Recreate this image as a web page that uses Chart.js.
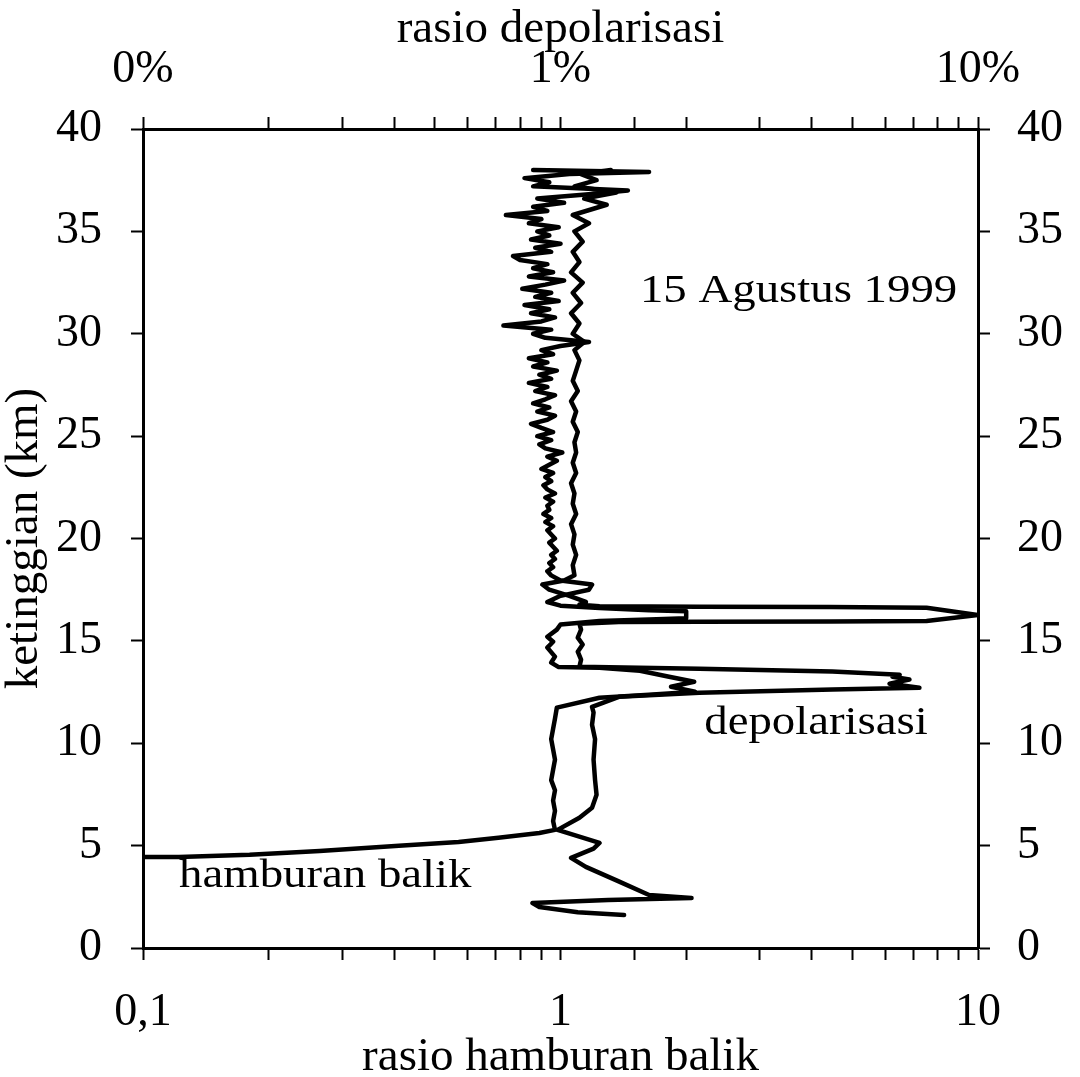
<!DOCTYPE html>
<html>
<head>
<meta charset="utf-8">
<title>Profil lidar 15 Agustus 1999</title>
<script src="https://cdn.jsdelivr.net/npm/chart.js"></script>
<style>
  body { margin: 0; background: #fff; }
  #wrap { width: 1080px; height: 1077px; }
</style>
</head>
<body>
<div id="wrap"><canvas id="chart" width="1080" height="1077"></canvas></div>
<script>
// hamburan balik (backscatter ratio) - ketinggian km / rasio
const hbAlt = [
  4.45, 4.45, 4.55, 4.74, 4.99, 5.18, 5.38, 5.62, 5.77,
  6.2, 6.7, 7.2, 7.7, 8.2, 8.7, 9.2, 9.7, 10.2, 10.7, 11.2, 11.74,
  12.22, 12.37, 12.52, 12.76, 13.0, 13.25, 13.54, 13.69, 13.72,
  13.94, 14.23, 14.67, 14.96, 15.2, 15.55, 15.8,
  15.97, 16.05, 16.1, 16.45, 16.5, 16.6, 16.72,
  16.9, 17.2, 17.5, 17.75, 17.95,
  18.2, 18.4, 18.6, 18.8, 19.0, 19.2, 19.4, 19.6, 19.8, 20.0,
  20.2, 20.4, 20.6, 20.8, 21.0, 21.2, 21.4, 21.6, 21.8, 22.0,
  22.2, 22.4, 22.6, 22.8, 23.0, 23.2, 23.4, 23.6, 23.8, 24.0,
  24.2, 24.4, 24.6, 24.8, 25.0, 25.2, 25.4, 25.6, 25.8, 26.0,
  26.2, 26.4, 26.6, 26.8, 27.0, 27.2, 27.4, 27.6, 27.8, 28.0,
  28.2, 28.4, 28.6, 28.8, 29.0, 29.2, 29.4, 29.6, 29.8, 30.0,
  30.2, 30.4, 30.6, 30.8, 31.0, 31.2, 31.4, 31.6, 31.8, 32.0,
  32.2, 32.4, 32.6, 32.8, 33.0, 33.2, 33.4, 33.6, 33.8, 34.0,
  34.2, 34.4, 34.6, 34.8, 35.0, 35.2, 35.4, 35.6, 35.8, 36.0,
  36.2, 36.4, 36.6, 36.8, 37.0, 37.2, 37.4, 37.6, 37.8, 37.9, 38.0
];
const hbRatio = [
  0.100, 0.122, 0.18, 0.265, 0.41, 0.57, 0.71, 0.89, 0.97,
  0.96, 0.97, 0.96, 0.97, 0.95, 0.96, 0.97, 0.96, 0.95, 0.96, 0.97, 0.98,
  1.24, 1.63, 2.10, 1.84, 2.09, 1.82, 1.55, 1.24, 0.99,
  0.95, 0.97, 0.93, 0.96, 0.93, 0.98, 1.00,
  1.24, 1.63, 2.00, 2.00, 1.63, 1.24, 1.00,
  0.93, 1.00, 1.17, 1.19, 1.00,
  0.95, 0.93, 0.96, 0.94, 0.97, 0.95, 0.98, 0.96, 0.94, 0.97,
  0.95, 0.93, 0.96, 0.92, 0.95, 0.91, 0.94, 0.93, 0.96, 0.92,
  0.97, 0.93, 0.91, 0.95, 0.92, 0.96, 0.90, 0.94, 0.98, 0.93,
  1.01, 0.92, 0.89, 0.95, 0.88, 0.96, 0.90, 0.85, 0.93, 0.97,
  0.88, 0.94, 0.86, 0.92, 0.97, 0.87, 0.93, 0.84, 0.95, 0.89,
  0.98, 0.86, 0.93, 0.84, 0.96, 0.90, 1.00, 1.17, 0.92, 0.86,
  0.95, 0.73, 0.90, 0.97, 0.85, 0.94, 0.82, 0.99, 0.87, 0.95,
  0.81, 0.92, 1.02, 0.84, 0.96, 0.86, 0.93, 0.80, 0.77, 0.95,
  0.87, 1.00, 0.85, 0.94, 0.88, 0.99, 0.84, 0.90, 0.74, 0.93,
  0.86, 1.02, 0.88, 1.15, 1.45, 0.86, 0.94, 0.82, 1.05, 1.63, 0.86
];

// depolarisasi - ketinggian km / rasio (skala atas, 1 = 1%)
const dpAlt = [
  1.61, 1.75, 2.0, 2.2, 2.35, 2.44, 2.59, 3.28, 3.96, 4.4, 4.85, 5.13, 5.77,
  6.36, 6.85, 7.48, 8.2, 9.2, 10.2, 10.9, 11.5, 11.78,
  12.27, 12.47, 12.62, 12.71, 12.91, 13.11, 13.25, 13.35, 13.5, 13.64, 13.74,
  14.08, 14.47, 14.82, 15.16, 15.55, 15.84,
  15.92, 15.94, 15.95, 15.97, 16.26, 16.62, 16.66, 16.67, 16.69, 16.77,
  16.9, 17.2, 17.5, 17.75, 17.95,
  18.2, 18.7, 19.2, 19.7, 20.2, 20.7, 21.2, 21.7, 22.2, 22.7,
  23.2, 23.7, 24.2, 24.7, 25.2, 25.7, 26.2, 26.7, 27.2, 27.7,
  28.2, 28.7, 29.2, 29.6, 30.0, 30.5, 31.0, 31.5, 32.0, 32.5,
  33.0, 33.5, 34.0, 34.5, 35.0, 35.4, 35.8, 36.3, 36.6, 36.9,
  37.2, 37.5, 37.8, 38.0
];
const dpRatio = [
  1.42, 1.10, 0.89, 0.857, 1.30, 2.06, 1.63, 1.37, 1.15, 1.06, 1.20, 1.24, 0.984,
  1.11, 1.19, 1.22, 1.21, 1.20, 1.21, 1.19, 1.20, 1.19,
  1.38, 2.15, 4.48, 7.24, 6.14, 6.85, 6.24, 6.49, 4.48, 2.15, 1.11,
  1.12, 1.10, 1.13, 1.10, 1.12, 1.11,
  1.38, 2.15, 4.41, 7.53, 10.0, 7.53, 4.41, 2.15, 1.24, 1.11,
  1.15, 1.05, 0.94, 0.905, 1.02,
  1.08, 1.07, 1.09, 1.07, 1.08, 1.06, 1.09, 1.07, 1.08, 1.06,
  1.09, 1.07, 1.09, 1.08, 1.10, 1.07, 1.09, 1.06, 1.10, 1.07,
  1.09, 1.11, 1.08, 1.14, 1.07, 1.11, 1.06, 1.12, 1.07, 1.13,
  1.06, 1.11, 1.07, 1.13, 1.08, 1.17, 1.07, 1.29, 1.14, 1.36,
  1.08, 1.22, 1.12, 1.32
];

const ratioTicks = [0.1, 1, 10];
const bottomTickLabels = ['0,1', '1', '10'];
const topTickLabels = ['0%', '1%', '10%'];
const heightTicks = [0, 40, 5]; // min, max, step

const notes = [
  { text: '15 Agustus 1999', ratio: 1.55, km: 31.55 },
  { text: 'depolarisasi', ratio: 2.21, km: 10.45 },
  { text: 'hamburan balik', ratio: 0.122, km: 2.98 }
];

function toPoints(alt, ratio) {
  return alt.map((a, i) => ({ x: ratio[i], y: a }));
}

function labelFor(value, labels) {
  const i = ratioTicks.findIndex(t => Math.abs(Math.log10(t) - Math.log10(value)) < 1e-6);
  return i < 0 ? '' : labels[i];
}

const serif = '"Liberation Serif", "Times New Roman", serif';
const tickFont = { family: serif, size: 46, lineHeight: 1 };
const titleFont = { family: serif, size: 47, lineHeight: 1 };
const grid = { drawOnChartArea: false, drawTicks: true, tickLength: 12, color: '#000', tickColor: '#000', tickWidth: 2 };
const border = { display: true, color: '#000', width: 3 };

const notesPlugin = {
  id: 'notes',
  afterDraw(chart) {
    const ctx = chart.ctx;
    ctx.save();
    ctx.fillStyle = '#000';
    ctx.font = '40px ' + serif;
    ctx.textBaseline = 'alphabetic';
    notes.forEach(n => {
      const px = chart.scales.x.getPixelForValue(n.ratio);
      const py = chart.scales.y.getPixelForValue(n.km);
      ctx.save();
      ctx.translate(px, py);
      ctx.scale(1.17, 1);
      ctx.fillText(n.text, 0, 0);
      ctx.restore();
    });
    ctx.restore();
  }
};

const line = {
  showLine: true,
  pointRadius: 0,
  borderColor: '#000',
  backgroundColor: '#000',
  borderWidth: 4.5,
  borderJoinStyle: 'round',
  borderCapStyle: 'round',
  tension: 0
};

const ctx = document.getElementById('chart').getContext('2d');
const chart = new Chart(ctx, {
  type: 'scatter',
  data: {
    datasets: [
      Object.assign({ label: 'hamburan balik', data: toPoints(hbAlt, hbRatio) }, line),
      Object.assign({ label: 'depolarisasi', data: toPoints(dpAlt, dpRatio) }, line)
    ]
  },
  options: {
    responsive: false,
    animation: false,
    devicePixelRatio: 1,
    layout: { padding: 0 },
    plugins: {
      legend: { display: false },
      tooltip: { enabled: false }
    },
    scales: {
      x: {
        type: 'logarithmic',
        position: 'bottom',
        min: ratioTicks[0],
        max: ratioTicks[ratioTicks.length - 1],
        afterFit: s => { s.height = 129 },
        grid: grid,
        border: border,
        ticks: {
          color: '#000', font: tickFont, padding: 30,
          autoSkip: false, maxRotation: 0, minRotation: 0,
          callback: v => labelFor(v, bottomTickLabels)
        },
        title: { display: true, text: 'rasio hamburan balik', color: '#000', font: titleFont, padding: { top: 0, bottom: -4 } }
      },
      x2: {
        type: 'logarithmic',
        position: 'top',
        min: ratioTicks[0],
        max: ratioTicks[ratioTicks.length - 1],
        afterFit: s => { s.height = 129 },
        grid: grid,
        border: border,
        ticks: {
          color: '#000', font: tickFont, padding: 24,
          autoSkip: false, maxRotation: 0, minRotation: 0,
          callback: v => labelFor(v, topTickLabels)
        },
        title: { display: true, text: 'rasio depolarisasi', color: '#000', font: titleFont, padding: { top: 6, bottom: 0 } }
      },
      y: {
        type: 'linear',
        position: 'left',
        min: heightTicks[0],
        max: heightTicks[1],
        afterFit: s => { s.width = 143 },
        grid: grid,
        border: border,
        ticks: { stepSize: heightTicks[2], color: '#000', font: tickFont, padding: 29 },
        title: { display: true, text: 'ketinggian (km)', color: '#000', font: titleFont, padding: { top: 1, bottom: 0 } }
      },
      y2: {
        type: 'linear',
        position: 'right',
        min: heightTicks[0],
        max: heightTicks[1],
        afterFit: s => { s.width = 102 },
        grid: grid,
        border: border,
        ticks: { stepSize: heightTicks[2], color: '#000', font: tickFont, padding: 27 }
      }
    }
  },
  plugins: [notesPlugin]
});
</script>
</body>
</html>
